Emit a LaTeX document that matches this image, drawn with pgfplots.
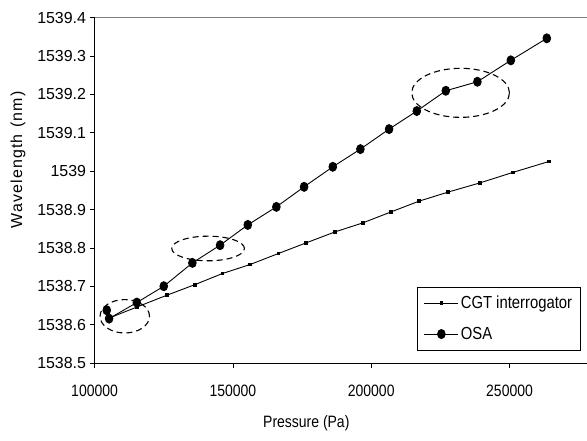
\documentclass[border=0pt]{standalone}
\usepackage{fontspec}
\setmainfont{Liberation Sans}[FakeStretch=0.85]
\newfontfamily\ytickfont{Liberation Sans}
\newcommand\ls{\kern1.1bp}
\usepackage{pgfplots}
\pgfplotsset{compat=1.18}
\begin{document}
\begin{tikzpicture}
\begin{axis}[
  name=ax,
  scale only axis,
  width=492bp, height=345bp,
  xmin=100000, xmax=278000,
  ymin=1538.5, ymax=1539.4,
  axis lines=left,
  axis line style={-, black, line width=1bp},
  xtick={100000,150000,200000,250000},
  xticklabels={100000,150000,200000,250000},
  ytick={1538.5,1538.6,1538.7,1538.8,1538.9,1539,1539.1,1539.2,1539.3,1539.4},
  yticklabels={1538.5,1538.6,1538.7,1538.8,1538.9,1539,1539.1,1539.2,1539.3,1539.4},
  tick align=outside,
  major tick length=5bp,
  tick style={black, line width=0.8bp},
  scaled x ticks=false, scaled y ticks=false,
  xticklabel style={font=\fontsize{16.5}{19}\selectfont, yshift=-13bp},
  yticklabel style={font=\ytickfont\fontsize{16}{19}\selectfont},
  xlabel={Pressure (Pa)},
  xlabel style={font=\fontsize{16.5}{19}\selectfont, at={(axis description cs:0.43,-0.1757)}, anchor=center},
  legend style={at={(axis description cs:0.9868,0.0368)}, anchor=south east, draw=black, line width=0.8bp,
    font=\fontsize{17.5}{21}\selectfont, row sep=13bp, inner xsep=6bp, inner ysep=7bp},
  legend cell align=left,
  legend image code/.code={\draw[mark repeat=2,mark phase=2,#1] plot coordinates {(0bp,0bp) (17bp,0bp) (34bp,0bp)};},
]
\addplot[black, line width=0.9bp, mark=square*, mark size=1.4bp] coordinates {
(105350,1538.6174) (115255,1538.6458) (126100,1538.6766) (136331,1538.7045)
(146200,1538.7332) (156213,1538.7567) (166444,1538.7854) (176457,1538.8131)
(186941,1538.8418) (196954,1538.8652) (207185,1538.8939) (217307,1538.9219)
(227682,1538.9453) (239358,1538.9696) (251179,1538.9967) (264302,1539.0254)
};
\addlegendentry{CGT interrogator}
\addplot[black, line width=0.9bp, mark=*, mark size=4.5bp, mark options={xscale=0.85}] coordinates {
(104410,1538.6375) (105242,1538.6158) (115255,1538.6576) (125016,1538.7001)
(135355,1538.7609) (145368,1538.8071) (155382,1538.8600) (165721,1538.9070)
(175734,1538.9592) (186109,1539.0114) (196087,1539.0575) (206462,1539.1097)
(216475,1539.1567) (226959,1539.2096) (238382,1539.2331) (250456,1539.2889)
(263470,1539.3463)
};
\addlegendentry{OSA}
\draw[dash pattern=on 6bp off 4bp, line width=1.1bp] (axis cs:110917,1538.6218) ellipse [x radius=24.7bp, y radius=16.7bp];
\draw[dash pattern=on 6bp off 4bp, line width=1.1bp] (axis cs:141030,1538.7985) ellipse [x radius=36.3bp, y radius=12.3bp];
\draw[dash pattern=on 6bp off 4bp, line width=1.1bp] (axis cs:232309,1539.2042) ellipse [x radius=48.8bp, y radius=24.5bp];
\end{axis}
\draw[gray, line width=1bp] (ax.north west) -- (ax.north east);
\node[rotate=90, anchor=center, inner sep=0pt, font=\ytickfont\fontsize{16}{19}\selectfont]
  at ([xshift=-76.5bp, yshift=203bp]ax.south west)
  {W\ls a\ls v\ls e\ls l\ls e\ls n\ls g\ls t\ls h\ls{} \ls(\ls n\ls m\ls)};
\pgfresetboundingbox
\path[use as bounding box] ([xshift=-94.5bp,yshift=-77.3bp]ax.south west) rectangle ([yshift=17.7bp]ax.north east);
\end{tikzpicture}
\end{document}
